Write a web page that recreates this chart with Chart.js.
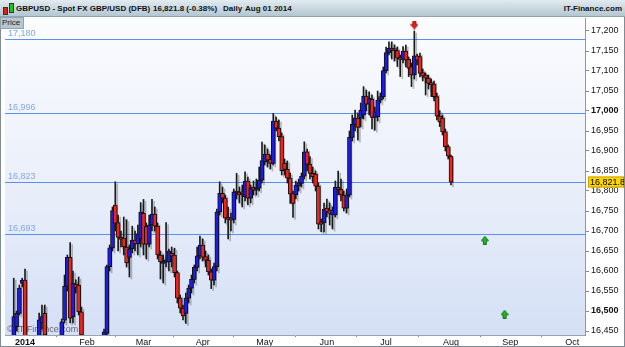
<!DOCTYPE html>
<html>
<head>
<meta charset="utf-8">
<script src="https://cdn.jsdelivr.net/npm/chart.js@4.4.1/dist/chart.umd.min.js"></script>
<style>
  body { margin: 0; background: #fff; }
  #wrap { position: relative; width: 625px; height: 347px; font-family: "Liberation Sans", Arial, sans-serif; }
  #head { position: absolute; left: 0; top: 0; width: 625px; height: 16px; background: linear-gradient(#e2ebf0, #b3c6d1);
          border-bottom: 1px solid #8fa5b2; font-size: 8px; font-weight: bold; color: #111; line-height: 17px; z-index: 2; }
  #head span { position: absolute; top: 0; }
  .ico { position: absolute; width: 3px; border: 1px solid #333; }
  #price { position: absolute; left: 0; top: 17px; width: 21px; height: 10px; background: #b7c7d1; border: 1px solid #8fa5b2;
           font-size: 8px; line-height: 10px; color: #222; padding-left: 1px; z-index: 2; }
  canvas { position: absolute; left: 0; top: 0; }
</style>
</head>
<body>
<div id="wrap">
  <div id="head">
    <div class="ico" style="left:3px;top:7px;height:6px;background:#e02020"></div>
    <div class="ico" style="left:9px;top:3px;height:8px;background:#20c020"></div>
    <span style="left:16px">GBPUSD - Spot FX GBP/USD (DFB)</span>
    <span style="left:153px">16,821.8 (-0.38%)</span>
    <span style="left:223px">Daily</span>
    <span style="left:245px">Aug 01 2014</span>
    <span style="right:3px">IT-Finance.com</span>
  </div>
  <div id="price">Price</div>
  <canvas id="my_graph" width="625" height="347"></canvas>
</div>
<script>
// trading-day index of the first candle (Jan 02 2014 = 0)
const firstIndex = -7;

const candleOpen = [16350, 16370, 16365, 16430, 16461, 16494, 16569, 16577, 16425, 16380, 16420, 16378,
  16435, 16470, 16494, 16430, 16350, 16378, 16425, 16410, 16432, 16477, 16561, 16634, 16486, 16567, 16565,
  16498, 16438, 16430, 16330, 16320, 16305, 16345, 16410, 16400, 16444, 16611, 16658, 16765, 16721, 16684,
  16682, 16660, 16634, 16656, 16677, 16668, 16680, 16744, 16711, 16667, 16715, 16742, 16712, 16640, 16619,
  16622, 16623, 16644, 16640, 16596, 16532, 16507, 16494, 16532, 16557, 16579, 16609, 16638, 16665, 16636,
  16627, 16598, 16577, 16611, 16748, 16794, 16782, 16732, 16729, 16729, 16800, 16797, 16798, 16786, 16825,
  16782, 16809, 16802, 16807, 16827, 16873, 16892, 16879, 16869, 16975, 16957, 16936, 16869, 16854, 16832,
  16794, 16790, 16813, 16819, 16837, 16898, 16867, 16844, 16842, 16812, 16723, 16721, 16757, 16752, 16740,
  16740, 16809, 16804, 16790, 16757, 16790, 16934, 16965, 16982, 16982, 16990, 17037, 17017, 17029, 16984,
  16986, 17027, 17036, 17101, 17146, 17157, 17154, 17151, 17132, 17129, 17150, 17129, 17111, 17090, 17138,
  17136, 17096, 17090, 17082, 17071, 17067, 17036, 16987, 16982, 16948, 16911, 16887];
const candleHigh = [16385, 16390, 16438, 16582, 16500, 16565, 16582, 16605, 16435, 16435, 16430, 16438,
  16495, 16515, 16515, 16438, 16400, 16436, 16438, 16438, 16480, 16590, 16640, 16671, 16600, 16578, 16585,
  16510, 16439, 16435, 16360, 16340, 16360, 16430, 16438, 16455, 16615, 16665, 16760, 16823, 16740, 16700,
  16735, 16728, 16665, 16712, 16700, 16715, 16771, 16779, 16720, 16740, 16779, 16760, 16720, 16650, 16640,
  16721, 16655, 16660, 16657, 16600, 16540, 16515, 16545, 16565, 16590, 16615, 16660, 16687, 16680, 16650,
  16640, 16605, 16620, 16755, 16823, 16810, 16790, 16760, 16745, 16805, 16844, 16810, 16815, 16848, 16835,
  16815, 16825, 16830, 16860, 16922, 16915, 16905, 16890, 16994, 16985, 16977, 16945, 16880, 16875, 16845,
  16800, 16825, 16830, 16845, 16923, 16905, 16886, 16860, 16850, 16820, 16730, 16770, 16780, 16770, 16760,
  16825, 16850, 16830, 16800, 16805, 16950, 16990, 17002, 16995, 17020, 17061, 17052, 17048, 17040, 17010,
  17050, 17045, 17110, 17160, 17173, 17173, 17165, 17160, 17140, 17161, 17165, 17135, 17120, 17200, 17142,
  17145, 17105, 17095, 17090, 17080, 17075, 17045, 17001, 16990, 16955, 16915, 16890];
const candleLow = [16340, 16350, 16355, 16425, 16450, 16490, 16560, 16410, 16365, 16370, 16360, 16370,
  16425, 16455, 16420, 16340, 16330, 16365, 16395, 16400, 16420, 16470, 16550, 16470, 16470, 16545, 16490,
  16430, 16400, 16310, 16280, 16250, 16290, 16330, 16380, 16380, 16430, 16600, 16650, 16700, 16650, 16660,
  16640, 16610, 16585, 16645, 16650, 16640, 16660, 16640, 16630, 16660, 16700, 16700, 16630, 16580, 16570,
  16610, 16600, 16610, 16585, 16520, 16495, 16478, 16469, 16520, 16545, 16570, 16600, 16630, 16625, 16610,
  16590, 16556, 16565, 16600, 16740, 16770, 16720, 16680, 16700, 16720, 16780, 16770, 16760, 16775, 16765,
  16770, 16790, 16790, 16800, 16820, 16865, 16860, 16855, 16865, 16950, 16925, 16840, 16840, 16820, 16769,
  16734, 16780, 16800, 16810, 16830, 16850, 16830, 16820, 16800, 16705, 16698, 16698, 16735, 16715, 16705,
  16735, 16790, 16775, 16750, 16745, 16785, 16925, 16950, 16927, 16960, 16980, 17000, 16990, 16955, 16952,
  16975, 17020, 17030, 17095, 17140, 17130, 17125, 17111, 17086, 17120, 17110, 17086, 17061, 17080, 17115,
  17085, 17075, 17040, 17055, 17036, 17025, 16978, 16961, 16940, 16900, 16880, 16815];
const candleClose = [16370, 16365, 16430, 16486, 16494, 16557, 16577, 16425, 16380, 16420, 16378, 16430,
  16478, 16486, 16440, 16350, 16378, 16425, 16410, 16432, 16473, 16562, 16634, 16482, 16569, 16559, 16498,
  16440, 16430, 16330, 16320, 16305, 16345, 16410, 16400, 16448, 16611, 16658, 16751, 16719, 16684, 16679,
  16660, 16620, 16655, 16677, 16668, 16693, 16747, 16667, 16667, 16715, 16742, 16712, 16640, 16623, 16622,
  16628, 16650, 16638, 16596, 16532, 16507, 16488, 16532, 16557, 16579, 16609, 16638, 16665, 16634, 16627,
  16598, 16577, 16611, 16748, 16794, 16782, 16732, 16729, 16727, 16798, 16795, 16790, 16793, 16825, 16782,
  16807, 16802, 16807, 16827, 16876, 16892, 16877, 16869, 16975, 16957, 16936, 16851, 16854, 16832, 16792,
  16769, 16815, 16821, 16837, 16898, 16867, 16844, 16836, 16812, 16717, 16717, 16754, 16748, 16744, 16752,
  16809, 16804, 16790, 16757, 16790, 16934, 16967, 16982, 16959, 17002, 17037, 17017, 17032, 16984, 16998,
  17027, 17036, 17101, 17146, 17157, 17152, 17151, 17132, 17129, 17150, 17127, 17107, 17090, 17138, 17127,
  17094, 17087, 17082, 17069, 17065, 17036, 16987, 16973, 16948, 16911, 16887, 16821.8];

// month ticks (trading-day index of first session) and their labels
const monthIndex = [0, 22, 42, 63, 85, 107, 128, 151, 172, 194];
const monthLabels = ['2014', 'Feb', 'Mar', 'Apr', 'May', 'Jun', 'Jul', 'Aug', 'Sep', 'Oct'];

// horizontal level lines
const levelValues = [17180, 16996, 16823, 16693];
const levelLabels = ['17,180', '16,996', '16,823', '16,693'];
const lastPrice = 16821.8;

// signal arrows
const signalIndex = [138, 163, 170];
const signalPrice = [17215, 16677, 16492];
const signalDir = ['down', 'up', 'up'];

const upColor = '#1c1ce8';
const downColor = '#f0241a';

let fmt = v => v.toLocaleString('en-US');

function makeArrow(dir) {
    let c = document.createElement('canvas');
    c.width = 8; c.height = 9;
    let g = c.getContext('2d');
    g.fillStyle = dir == 'down' ? '#e8201c' : '#22b822';
    g.strokeStyle = dir == 'down' ? '#a01010' : '#157015';
    g.beginPath();
    if (dir == 'down') {
        g.moveTo(2.5, 0.5); g.lineTo(5.5, 0.5); g.lineTo(5.5, 4); g.lineTo(7.5, 4); g.lineTo(4, 8.5); g.lineTo(0.5, 4); g.lineTo(2.5, 4);
    } else {
        g.moveTo(2.5, 8.5); g.lineTo(5.5, 8.5); g.lineTo(5.5, 5); g.lineTo(7.5, 5); g.lineTo(4, 0.5); g.lineTo(0.5, 5); g.lineTo(2.5, 5);
    }
    g.closePath();
    g.fill(); g.stroke();
    return c;
}

let wickData = candleHigh.map((h, i) => ({x: firstIndex + i, y: [candleLow[i], h]}));
let bodyData = candleOpen.map((o, i) => ({x: firstIndex + i, y: [o, candleClose[i]]}));
let bodyColors = candleOpen.map((o, i) => candleClose[i] >= o ? upColor : downColor);
let signalData = signalIndex.map((x, i) => ({x: x, y: signalPrice[i]}));

const shadowPlugin = {
    id: 'shadow',
    beforeDatasetDraw(chart, args) {
        if (args.index > 1) return;
        chart.ctx.save();
        chart.ctx.shadowColor = 'rgba(0,0,0,0.25)';
        chart.ctx.shadowOffsetX = 2;
        chart.ctx.shadowOffsetY = 2;
    },
    afterDatasetDraw(chart, args) {
        if (args.index > 1) return;
        chart.ctx.restore();
    }
};

const backPlugin = {
    id: 'back',
    beforeDraw(chart) {
        let ctx = chart.ctx, a = chart.chartArea;
        ctx.save();
        ctx.fillStyle = '#ffffff';
        ctx.fillRect(0, 0, chart.width, chart.height);
        let grad = ctx.createLinearGradient(0, a.top, 0, a.bottom);
        grad.addColorStop(0, '#fbfcfe');
        grad.addColorStop(0.5, '#ebf0fa');
        grad.addColorStop(1, '#d5e0f6');
        ctx.fillStyle = grad;
        ctx.fillRect(a.left, a.top, a.right - a.left, a.bottom - a.top);
        ctx.restore();
    },
    beforeDatasetsDraw(chart) {
        let ctx = chart.ctx, a = chart.chartArea, y = chart.scales.y;
        ctx.save();
        ctx.font = '9px "Liberation Sans", Arial, sans-serif';
        ctx.textBaseline = 'bottom';
        let pl = Math.round(y.getPixelForValue(lastPrice)) + 0.5;
        ctx.strokeStyle = '#6b6f78';
        ctx.lineWidth = 1;
        ctx.beginPath(); ctx.moveTo(a.left, pl); ctx.lineTo(a.right, pl); ctx.stroke();
        levelValues.forEach((v, i) => {
            let py = Math.round(y.getPixelForValue(v)) + 0.5;
            ctx.strokeStyle = '#5b8ff0';
            ctx.beginPath(); ctx.moveTo(a.left, py); ctx.lineTo(a.right, py); ctx.stroke();
            ctx.fillStyle = '#82a7ee';
            ctx.fillText(levelLabels[i], a.left + 3, py - 1.5);
        });
        ctx.fillStyle = '#666';
        ctx.fillText('\u00a9 IT-Finance.com', a.left + 2, a.bottom - 1);
        ctx.restore();
    },
    afterDraw(chart) {
        let ctx = chart.ctx, a = chart.chartArea, y = chart.scales.y;
        ctx.save();
        let py = Math.round(y.getPixelForValue(lastPrice));
        ctx.fillStyle = '#ffd500';
        ctx.fillRect(a.right + 3, py - 5.5, 36, 11);
        ctx.strokeStyle = '#c9a200';
        ctx.strokeRect(a.right + 3.5, py - 5, 35, 10);
        ctx.fillStyle = '#000';
        ctx.font = '9px "Liberation Sans", Arial, sans-serif';
        ctx.textBaseline = 'middle';
        ctx.fillText(fmt(lastPrice), a.right + 5, py + 0.5);
        ctx.strokeStyle = '#7d8c96';
        ctx.strokeRect(0.5, 0.5, chart.width - 1, chart.height - 1);
        ctx.restore();
    }
};

var ctx = document.getElementById('my_graph').getContext('2d');
var my_graph = new Chart(ctx, {
    type: 'bar',
    data: {
        datasets: [{
                label: 'wicks',
                data: wickData,
                backgroundColor: '#1a1a1a',
                barThickness: 1,
                grouped: false,
                order: 2
            }, {
                label: 'bodies',
                data: bodyData,
                backgroundColor: bodyColors,
                borderColor: '#111',
                borderWidth: 1,
                borderSkipped: false,
                barThickness: 4,
                minBarLength: 2,
                grouped: false,
                order: 1
            }, {
                type: 'scatter',
                label: 'signals',
                data: signalData,
                pointStyle: signalDir.map(makeArrow),
                order: 0
            }
        ]
    },
    options: {
        responsive: false,
        animation: false,
        layout: { padding: { top: 18, left: 2, right: 0, bottom: 0 } },
        plugins: { legend: { display: false }, tooltip: { enabled: false } },
        scales: {
            x: {
                type: 'linear',
                min: -7.1,
                max: 198.5,
                offset: false,
                afterBuildTicks: scale => { scale.ticks = monthIndex.map(v => ({value: v})); },
                afterFit: scale => { scale.height = 12; },
                grid: { drawOnChartArea: false, tickLength: 2, color: '#888' },
                border: { color: '#9aa4ab' },
                ticks: {
                    autoSkip: false,
                    maxRotation: 0,
                    padding: 0,
                    color: '#111',
                    font: c => ({ size: 9, family: '"Liberation Sans", Arial, sans-serif', weight: c.index === 0 ? 'bold' : 'normal' }),
                    callback: (v, i) => monthLabels[i]
                }
            },
            y: {
                position: 'right',
                min: 16440,
                max: 17232.5,
                afterBuildTicks: scale => { scale.ticks = scale.ticks.filter(t => t.value % 50 === 0); },
                afterFit: scale => { scale.width = 40; },
                grid: { drawOnChartArea: false, tickLength: 4, color: '#888' },
                border: { color: '#8d98a0' },
                ticks: {
                    stepSize: 50,
                    includeBounds: false,
                    padding: 2,
                    color: '#111',
                    font: c => ({ size: 9, family: '"Liberation Sans", Arial, sans-serif', weight: c.tick && c.tick.value % 500 === 0 ? 'bold' : 'normal' }),
                    callback: v => fmt(v)
                }
            }
        }
    },
    plugins: [backPlugin, shadowPlugin]
});
</script>
</body>
</html>
